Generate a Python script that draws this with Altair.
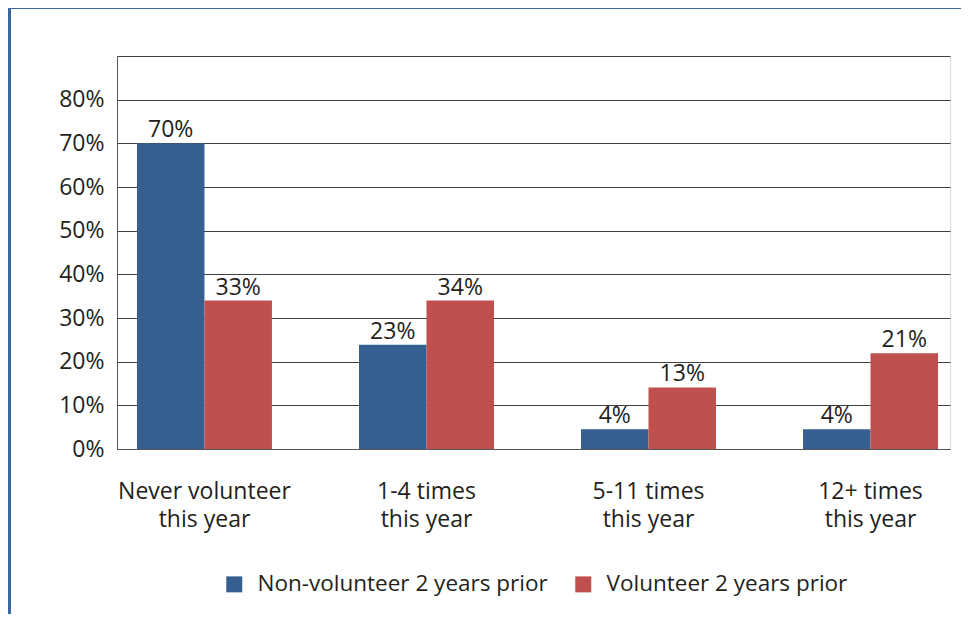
import altair as alt
import pandas as pd

categories = ["Never volunteer\nthis year", "1-4 times\nthis year", "5-11 times\nthis year", "12+ times\nthis year"]
series = ["Non-volunteer 2 years prior", "Volunteer 2 years prior"]
non_volunteer = [70.0, 23.9, 4.5, 4.5]
volunteer = [34.0, 34.0, 14.1, 21.9]
non_volunteer_labels = ["70%", "23%", "4%", "4%"]
volunteer_labels = ["33%", "34%", "13%", "21%"]
y_ticks = [0, 10, 20, 30, 40, 50, 60, 70, 80, 90]
colors = ["#365F91", "#C0504D"]

rows = []
for i, c in enumerate(categories):
    rows.append({"category": c, "series": series[0], "value": non_volunteer[i], "label": non_volunteer_labels[i]})
    rows.append({"category": c, "series": series[1], "value": volunteer[i], "label": volunteer_labels[i]})
df = pd.DataFrame(rows)

FONT = "Open Sans"
TXT = "#231F20"
FS = 23

x_enc = alt.X(
    "category:N",
    sort=categories,
    title=None,
    scale=alt.Scale(paddingInner=0.392, paddingOuter=0.072, align=0.625),
    axis=alt.Axis(
        labelExpr="split(datum.label, '\\n')",
        labelAngle=0,
        labelFontSize=FS,
        labelColor=TXT,
        labelFont=FONT,
        labelLineHeight=28,
        labelPadding=31,
        labelBaseline="top",
        ticks=False,
        domain=True,
        domainColor="#555555",
        grid=False,
    ),
)
xoff_enc = alt.XOffset("series:N", sort=series, scale=alt.Scale(paddingInner=0, paddingOuter=0))
y_enc = alt.Y(
    "value:Q",
    title=None,
    scale=alt.Scale(domain=[0, 90], nice=False),
    axis=alt.Axis(
        values=y_ticks,
        labelExpr="datum.value >= 90 ? '' : datum.value + '%'",
        labelFontSize=FS,
        labelColor=TXT,
        labelFont=FONT,
        labelPadding=13,
        ticks=False,
        grid=True,
        gridColor="#404040",
        gridWidth=1,
        domain=True,
        domainColor="#555555",
    ),
)

bars = alt.Chart(df).mark_bar().encode(
    x=x_enc,
    xOffset=xoff_enc,
    y=y_enc,
    color=alt.Color(
        "series:N",
        sort=series,
        scale=alt.Scale(domain=series, range=colors),
        legend=alt.Legend(
            title=None,
            orient="none",
            direction="horizontal",
            legendX=106,
            legendY=517,
            symbolType="square",
            symbolSize=256,
            symbolStrokeWidth=0,
            symbolOpacity=1,
            labelFontSize=22.5,
            labelFont=FONT,
            labelColor=TXT,
            labelOffset=12,
            labelLimit=0,
            columnPadding=24,
            padding=0,
        ),
    ),
)

texts = alt.Chart(df).mark_text(
    baseline="alphabetic", dy=-6, fontSize=FS, font=FONT, color=TXT
).encode(
    x=alt.X("category:N", sort=categories),
    xOffset=alt.XOffset("series:N", sort=series),
    y=alt.Y("value:Q"),
    text="label:N",
)

frame_top = alt.Chart(df).mark_rule(color="#3B679E", strokeWidth=3).encode(
    x=alt.value(-108), x2=alt.value(900), y=alt.value(-48.5)
)
frame_left = alt.Chart(df).mark_rule(color="#3B679E", strokeWidth=3).encode(
    x=alt.value(-107.5), y=alt.value(-50), y2=alt.value(600)
)

chart = alt.layer(frame_top, frame_left, bars, texts).properties(
    width=833,
    height=393,
    autosize=alt.AutoSizeParams(type="none"),
    padding={"left": 109, "top": 48, "right": 11, "bottom": 165},
).configure_view(stroke=None).configure(font=FONT)

chart.save("out.html", embed_options={"renderer": "svg", "actions": False})
